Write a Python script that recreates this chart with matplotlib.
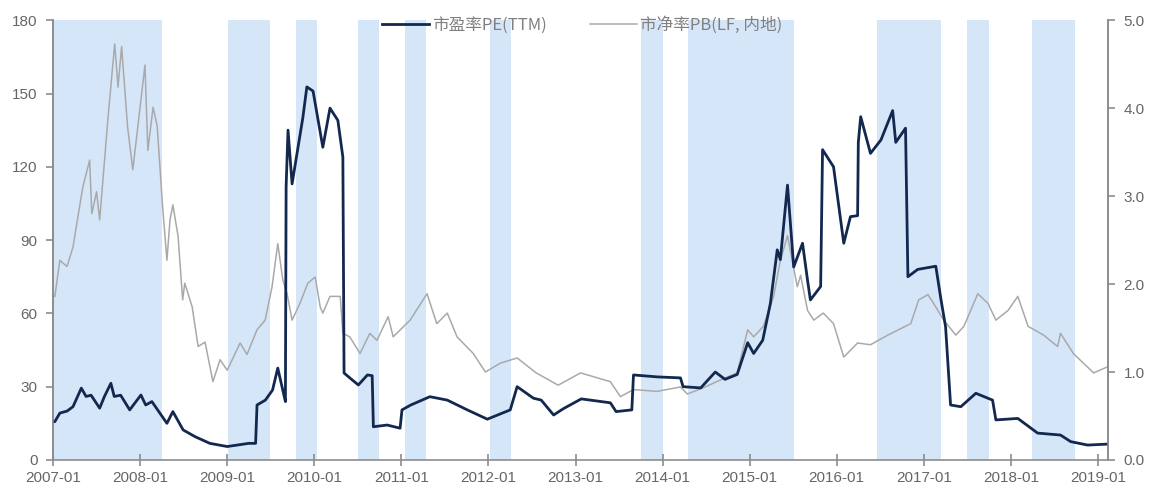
import matplotlib

matplotlib.use("Agg")
import matplotlib.dates as mdates
import matplotlib.pyplot as plt
import pandas as pd

# PE (TTM), left axis
pe_dates = [
    "2007-01-01", "2007-01-09", "2007-01-30", "2007-03-01", "2007-03-26", "2007-04-30",
    "2007-05-20", "2007-06-10", "2007-07-16", "2007-08-05", "2007-09-01", "2007-09-15",
    "2007-10-12", "2007-11-19", "2008-01-05", "2008-01-25", "2008-02-20", "2008-04-23",
    "2008-05-18", "2008-06-30", "2008-08-20", "2008-10-20", "2009-01-01", "2009-04-01",
    "2009-04-30", "2009-05-06", "2009-06-10", "2009-07-10", "2009-08-01", "2009-08-22",
    "2009-09-02", "2009-09-05", "2009-09-13", "2009-09-30", "2009-10-25", "2009-11-14",
    "2009-12-01", "2009-12-27", "2010-01-12", "2010-02-06", "2010-03-08", "2010-04-10",
    "2010-05-01", "2010-05-06", "2010-05-30", "2010-07-05", "2010-08-12", "2010-09-01",
    "2010-09-06", "2010-11-03", "2010-12-27", "2011-01-04", "2011-02-10", "2011-05-01",
    "2011-07-13", "2011-10-05", "2011-12-28", "2012-04-02", "2012-05-01", "2012-07-08",
    "2012-08-10", "2012-10-01", "2012-11-11", "2013-01-25", "2013-05-27", "2013-06-20",
    "2013-08-25", "2013-09-01", "2013-12-10", "2014-03-17", "2014-03-28", "2014-06-10",
    "2014-08-10", "2014-09-20", "2014-11-10", "2014-12-24", "2015-01-18", "2015-02-25",
    "2015-03-29", "2015-04-27", "2015-05-10", "2015-06-09", "2015-07-05", "2015-08-11",
    "2015-09-01", "2015-09-13", "2015-10-26", "2015-11-03", "2015-12-19", "2016-01-31",
    "2016-02-28", "2016-03-29", "2016-04-01", "2016-04-11", "2016-05-22", "2016-07-05",
    "2016-08-23", "2016-09-05", "2016-10-16", "2016-10-26", "2016-12-06", "2017-02-20",
    "2017-03-14", "2017-04-02", "2017-04-23", "2017-06-05", "2017-08-07", "2017-10-16",
    "2017-10-30", "2018-01-30", "2018-04-23", "2018-07-28", "2018-09-09", "2018-11-19",
    "2019-02-11",
]
pe_values = [
    15.7, 15.7, 19.2, 20, 21.8, 29.4,
    26, 26.5, 21.2, 26, 31.4, 26,
    26.5, 20.5, 26.6, 22.5, 23.9, 15,
    19.8, 12.3, 9.5, 6.8, 5.5, 6.8,
    6.8, 22.5, 24.5, 28.6, 37.6, 28.6,
    23.9, 111.8, 135, 113, 128, 140,
    152.7, 151, 142, 128, 144, 139,
    124, 35.6, 33.6, 30.7, 34.8, 34.5,
    13.6, 14.3, 13, 20.5, 22.5, 25.9,
    24.5, 20.5, 16.7, 20.5, 30, 25.3,
    24.5, 18.4, 21, 25, 23.4, 19.8,
    20.5, 34.8, 34, 33.6, 30, 29.5,
    36, 33, 35, 48, 43.6, 49,
    64, 86, 82, 112.5, 79, 88.7,
    73.6, 65.5, 71, 127, 120, 88.7,
    99.6, 100, 130, 140.5, 125.5, 131,
    143, 130, 135.8, 75, 78, 79.3,
    65.5, 54.5, 22.5, 21.8, 27.3, 24.5,
    16.4, 17, 11, 10.2, 7.5, 6.1,
    6.5,
]

# PB (LF, mainland), right axis
pb_dates = [
    "2007-01-01", "2007-01-09", "2007-01-30", "2007-03-01", "2007-03-26", "2007-05-06",
    "2007-06-04", "2007-06-13", "2007-07-03", "2007-07-16", "2007-08-19", "2007-09-17",
    "2007-10-01", "2007-10-16", "2007-11-10", "2007-12-02", "2008-01-22", "2008-02-03",
    "2008-02-25", "2008-03-13", "2008-04-05", "2008-04-23", "2008-05-06", "2008-05-18",
    "2008-06-09", "2008-06-28", "2008-07-07", "2008-08-07", "2008-09-01", "2008-09-30",
    "2008-11-02", "2008-12-02", "2009-01-01", "2009-02-24", "2009-03-25", "2009-05-06",
    "2009-06-09", "2009-07-08", "2009-08-01", "2009-08-22", "2009-09-09", "2009-09-30",
    "2009-11-02", "2009-12-05", "2010-01-05", "2010-01-26", "2010-02-06", "2010-03-08",
    "2010-04-20", "2010-05-01", "2010-05-30", "2010-07-12", "2010-08-22", "2010-09-21",
    "2010-11-07", "2010-11-28", "2011-02-07", "2011-04-19", "2011-05-30", "2011-07-13",
    "2011-08-23", "2011-10-30", "2011-12-20", "2012-02-20", "2012-05-01", "2012-07-20",
    "2012-10-20", "2013-01-22", "2013-05-27", "2013-07-08", "2013-09-01", "2013-12-10",
    "2014-03-17", "2014-04-15", "2014-06-20", "2014-09-01", "2014-11-10", "2014-12-24",
    "2015-01-18", "2015-02-28", "2015-04-12", "2015-05-10", "2015-06-09", "2015-07-20",
    "2015-08-03", "2015-09-01", "2015-09-27", "2015-11-06", "2015-12-19", "2016-01-31",
    "2016-03-29", "2016-05-22", "2016-08-03", "2016-11-07", "2016-12-10", "2017-01-18",
    "2017-02-20", "2017-03-25", "2017-05-15", "2017-06-18", "2017-08-15", "2017-09-27",
    "2017-10-30", "2017-12-20", "2018-01-30", "2018-03-14", "2018-05-18", "2018-07-16",
    "2018-07-28", "2018-09-20", "2018-12-14", "2019-02-11",
]
pb_values = [
    1.86, 1.86, 2.27, 2.2, 2.42, 3.1,
    3.41, 2.8, 3.05, 2.73, 3.86, 4.73,
    4.24, 4.7, 3.79, 3.3, 4.49, 3.52,
    4.01, 3.8, 2.88, 2.27, 2.73, 2.9,
    2.54, 1.82, 2.01, 1.74, 1.29, 1.34,
    0.89, 1.14, 1.02, 1.33, 1.2, 1.48,
    1.59, 1.97, 2.46, 2.05, 1.89, 1.59,
    1.78, 2.01, 2.08, 1.74, 1.67, 1.86,
    1.86, 1.44, 1.40, 1.21, 1.44, 1.36,
    1.63, 1.4, 1.59, 1.89, 1.55, 1.67,
    1.40, 1.21, 1.0, 1.10, 1.16, 0.99,
    0.85, 0.99, 0.89, 0.72, 0.80, 0.78,
    0.83, 0.75, 0.82, 0.91, 0.99, 1.48,
    1.40, 1.52, 1.86, 2.27, 2.55, 1.97,
    2.1, 1.70, 1.59, 1.67, 1.55, 1.17,
    1.33, 1.31, 1.42, 1.55, 1.82, 1.88,
    1.74, 1.59, 1.42, 1.52, 1.89, 1.78,
    1.59, 1.70, 1.86, 1.52, 1.42, 1.29,
    1.44, 1.21, 0.99, 1.06,
]

# shaded periods
shade_start = [
    "2007-01-01", "2009-01-06", "2009-10-16", "2010-07-05", "2011-01-15", "2012-01-08",
    "2013-10-04", "2014-04-18", "2016-06-19", "2017-07-01", "2018-04-01",
]
shade_end = [
    "2008-04-01", "2009-07-01", "2010-01-11", "2010-09-28", "2011-04-15", "2012-04-05",
    "2014-01-03", "2015-07-05", "2017-03-15", "2017-10-01", "2018-09-27",
]

pe_label = "市盈率PE(TTM)"
pb_label = "市净率PB(LF, 内地)"

NAVY = "#13284f"
GREY_LINE = "#a9a9a9"
SHADE = "#d6e6f9"
AXIS = "#8c8c8c"
TEXT = "#666666"

plt.rcParams["font.family"] = ["Liberation Sans", "Noto Sans CJK SC", "DejaVu Sans"]

fig = plt.figure(figsize=(11.51, 4.93), dpi=100)
ax2 = fig.add_axes([0.046, 0.067, 0.917, 0.892])
ax = ax2.twinx()
# PE axis is the left one; keep it drawn on top
ax.yaxis.tick_left()
ax2.yaxis.tick_right()

for s, e in zip(shade_start, shade_end):
    ax2.axvspan(pd.Timestamp(s), pd.Timestamp(e), color=SHADE, lw=0, zorder=0)

ax2.plot(pd.to_datetime(pb_dates), pb_values, color=GREY_LINE, lw=1.1, label=pb_label)
ax.plot(pd.to_datetime(pe_dates), pe_values, color=NAVY, lw=2.0, label=pe_label)

ax.set_ylim(0, 180)
ax.set_yticks(range(0, 181, 30))
ax2.set_ylim(0, 5.0)
ax2.set_yticks([0, 1, 2, 3, 4, 5])
ax2.set_yticklabels([f"{v:.1f}" for v in [0, 1, 2, 3, 4, 5]])

ax2.set_xlim(pd.Timestamp("2007-01-01"), pd.Timestamp("2019-02-14"))
ax2.xaxis.set_major_locator(mdates.YearLocator())
ax2.xaxis.set_major_formatter(mdates.DateFormatter("%Y-%m"))

for a in (ax, ax2):
    a.spines["top"].set_visible(False)
    for sp in ("left", "right", "bottom"):
        a.spines[sp].set_color(AXIS)
        a.spines[sp].set_linewidth(1.2)
    a.tick_params(colors=AXIS, labelcolor=TEXT, labelsize=11, length=5, width=1.2)
ax.spines["bottom"].set_visible(False)
ax2.tick_params(axis="x", direction="inout", length=8, pad=4)
ax.tick_params(axis="y", pad=6)
ax2.tick_params(axis="y", pad=6)

h1, l1 = ax.get_legend_handles_labels()
h2, l2 = ax2.get_legend_handles_labels()
leg = fig.legend(h1 + h2, l1 + l2, loc="center", bbox_to_anchor=(0.506, 0.949),
                 ncol=2, frameon=False, handlelength=2.8, handletextpad=0.2,
                 columnspacing=2.6,
                 prop={"family": ["Noto Sans CJK SC", "DejaVu Sans"], "size": 12})
for t in leg.get_texts():
    t.set_color("#808080")

fig.savefig("out.png", dpi=100)
